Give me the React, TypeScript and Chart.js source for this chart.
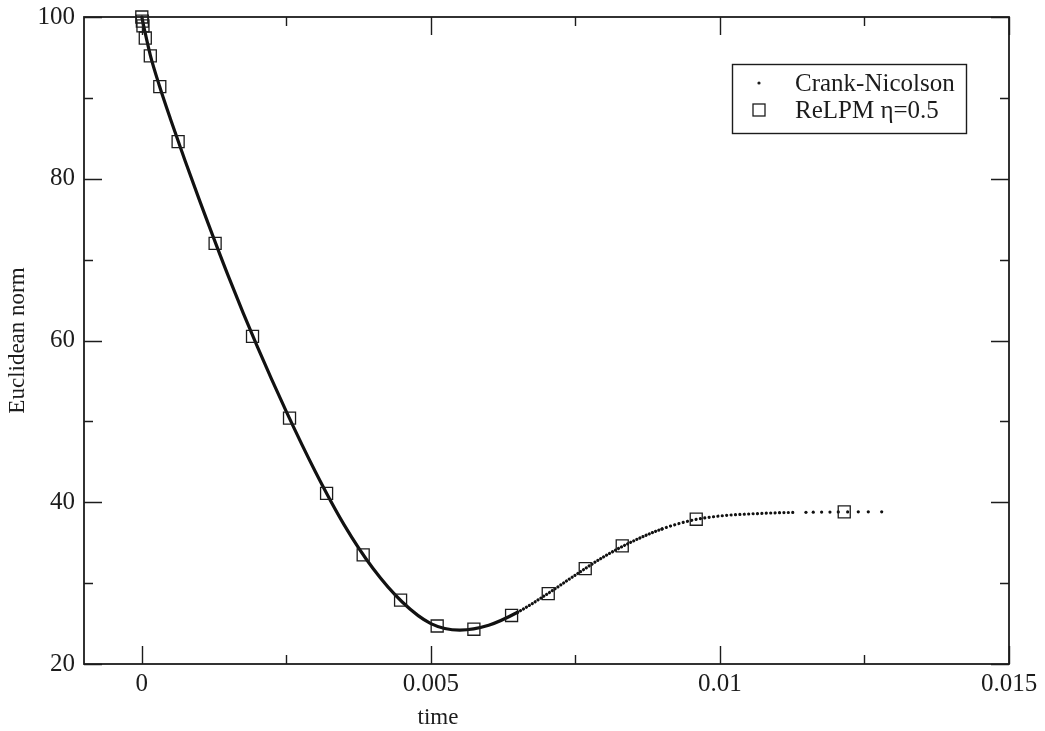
import React, { useEffect, useRef } from "react";
import { Chart, registerables } from "chart.js";
Chart.register(...registerables);

// Crank-Nicolson curve
const cnTime = [0, 0.00005, 0.00015, 0.0003, 0.0005, 0.00075, 0.001, 0.0015, 0.002, 0.0025, 0.003, 0.0035, 0.004, 0.0045, 0.005, 0.0055, 0.006, 0.0065, 0.007, 0.0075, 0.008, 0.0085, 0.009, 0.0095, 0.01, 0.0105, 0.011, 0.0113];
const cnNorm = [100, 98.3, 95.2, 91.6, 87.3, 82.2, 77.3, 67.9, 59.2, 51.2, 43.8, 37.2, 31.8, 27.7, 25.0, 24.2, 24.8, 26.4, 28.6, 31.0, 33.3, 35.2, 36.7, 37.75, 38.3, 38.55, 38.7, 38.75];
// Crank-Nicolson sparse tail dots
const cnTailTime = [0.011488, 0.011614, 0.011759, 0.011903, 0.012047, 0.012209, 0.012393, 0.012566, 0.012798];
const cnTailNorm = [38.76, 38.77, 38.78, 38.79, 38.8, 38.8, 38.81, 38.82, 38.82];
// ReLPM eta=0.5 squares
const relpmTime = [0, 0.00001, 0.00002, 0.00006, 0.000147, 0.000311, 0.000628, 0.001268, 0.001915, 0.002555, 0.003196, 0.003829, 0.004476, 0.005109, 0.005744, 0.006396, 0.00703, 0.00767, 0.00831, 0.00959, 0.01215];
const relpmNorm = [100, 99.5, 98.9, 97.4, 95.2, 91.4, 84.6, 72.0, 60.5, 50.4, 41.1, 33.5, 27.9, 24.7, 24.3, 26.0, 28.7, 31.8, 34.6, 37.9, 38.8];

const xTicks = [0, 0.005, 0.01, 0.015];
const xTickLabels = ["0", "0.005", "0.01", "0.015"];
const xMinorTicks = [0.0025, 0.0075, 0.0125];
const yTicks = [20, 40, 60, 80, 100];
const yMinorTicks = [30, 50, 70, 90];
const legendLabels = ["Crank-Nicolson", "ReLPM \u03b7=0.5"];
const xTitle = "time";
const yTitle = "Euclidean norm";

const FONT = "'Liberation Serif', 'Times New Roman', serif";
const INK = "#1c1c1c";

const framePlugin = {
  id: "frameTicks",
  afterDraw(chart: any) {
    const { ctx, chartArea: a, scales } = chart;
    const xs = scales.x, ys = scales.y;
    ctx.save();
    ctx.strokeStyle = INK;
    ctx.lineWidth = 1.4;
    const major = 18, minor = 9;
    ctx.beginPath();
    const vx = (v: number, len: number) => {
      const px = Math.round(xs.getPixelForValue(v)) + 0.5;
      ctx.moveTo(px, a.bottom); ctx.lineTo(px, a.bottom - len);
      ctx.moveTo(px, a.top); ctx.lineTo(px, a.top + len);
    };
    const hy = (v: number, len: number) => {
      const py = Math.round(ys.getPixelForValue(v)) + 0.5;
      ctx.moveTo(a.left, py); ctx.lineTo(a.left + len, py);
      ctx.moveTo(a.right, py); ctx.lineTo(a.right - len, py);
    };
    xTicks.forEach((v) => vx(v, major));
    xMinorTicks.forEach((v) => vx(v, minor));
    yTicks.forEach((v) => hy(v, major));
    yMinorTicks.forEach((v) => hy(v, minor));
    ctx.stroke();
    ctx.lineWidth = 1.8;
    ctx.strokeRect(a.left, a.top, a.right - a.left, a.bottom - a.top);

    // axis titles
    ctx.fillStyle = INK;
    ctx.font = `23px ${FONT}`;
    ctx.textAlign = "center";
    ctx.textBaseline = "middle";
    ctx.fillText(xTitle, a.left + 354, a.bottom + 54);
    ctx.save();
    ctx.translate(a.left - 66, (a.top + a.bottom) / 2);
    ctx.rotate(-Math.PI / 2);
    ctx.fillText(yTitle, 0, 0);
    ctx.restore();

    // legend
    const bx = a.left + 648, by = a.top + 47, bw = 234, bh = 69;
    ctx.fillStyle = "#ffffff";
    ctx.fillRect(bx, by, bw, bh);
    ctx.lineWidth = 1.4;
    ctx.strokeRect(bx + 0.5, by + 0.5, bw, bh);
    ctx.fillStyle = INK;
    ctx.beginPath();
    ctx.arc(bx + 27, by + 19, 1.6, 0, Math.PI * 2);
    ctx.fill();
    ctx.lineWidth = 1.3;
    ctx.strokeRect(bx + 21, by + 40, 12, 12);
    ctx.font = `25px ${FONT}`;
    ctx.textBaseline = "middle";
    ctx.textAlign = "left";
    ctx.fillText(legendLabels[0], bx + 63, by + 20);
    ctx.fillText(legendLabels[1], bx + 63, by + 47);
    ctx.restore();
  },
};

export default function App() {
  const ref = useRef<HTMLCanvasElement | null>(null);
  useEffect(() => {
    if (!ref.current) return;
    const dotsFrom = (x: number) => x >= 0.0088 ? [0.01, 4.4] : x >= 0.0062 ? [0.01, 3.4] : undefined;
    const chart = new Chart(ref.current, {
      type: "scatter",
      data: {
        datasets: [
          {
            label: legendLabels[1],
            data: relpmTime.map((t, i) => ({ x: t, y: relpmNorm[i] })),
            showLine: false,
            pointStyle: "rect",
            pointRadius: 8.5,
            pointBorderWidth: 1.3,
            pointBorderColor: INK,
            pointBackgroundColor: "rgba(0,0,0,0)",
          },
          {
            label: legendLabels[0],
            data: cnTime.map((t, i) => ({ x: t, y: cnNorm[i] })),
            showLine: true,
            borderColor: "#111",
            borderWidth: 3.2,
            borderCapStyle: "round",
            cubicInterpolationMode: "monotone",
            pointRadius: 0,
            segment: {
              borderDash: (c: any) => dotsFrom(c.p0.parsed.x),
            },
          } as any,
          {
            label: "tail",
            data: cnTailTime.map((t, i) => ({ x: t, y: cnTailNorm[i] })),
            showLine: false,
            pointStyle: "circle",
            pointRadius: 1.6,
            pointBorderWidth: 0,
            pointBackgroundColor: "#111",
          },
        ],
      },
      options: {
        animation: false,
        responsive: false,
        events: [],
        clip: false,
        layout: { padding: { top: 17, right: 36, left: 0, bottom: 0 } },
        plugins: { legend: { display: false }, tooltip: { enabled: false } },
        scales: {
          x: {
            type: "linear",
            min: -0.001,
            max: 0.015,
            grid: { display: false, drawTicks: false },
            border: { display: false },
            afterBuildTicks: (s: any) => { s.ticks = xTicks.map((v) => ({ value: v })); },
            afterFit: (s: any) => { s.height = 67; s.paddingLeft = 0; s.paddingRight = 0; },
            ticks: {
              padding: 5,
              color: INK,
              font: { family: FONT, size: 25 },
              maxRotation: 0,
              callback: (_v: any, i: number) => xTickLabels[i],
            },
            title: { display: false },
          },
          y: {
            type: "linear",
            min: 20,
            max: 100,
            grid: { display: false, drawTicks: false },
            border: { display: false },
            afterBuildTicks: (s: any) => { s.ticks = yTicks.map((v) => ({ value: v })); },
            afterFit: (s: any) => { s.width = 84; s.paddingTop = 0; s.paddingBottom = 0; },
            ticks: {
              padding: 9,
              color: INK,
              font: { family: FONT, size: 25 },
              callback: (v: any) => String(v),
            },
            title: { display: false },
          },
        },
      },
      plugins: [framePlugin],
    });
    return () => chart.destroy();
  }, []);
  return (
    <div style={{ position: "fixed", left: 0, top: 0, width: 1045, height: 731, background: "#fff" }}>
      <canvas ref={ref} width={1045} height={731} style={{ width: 1045, height: 731, display: "block" }} />
    </div>
  );
}
